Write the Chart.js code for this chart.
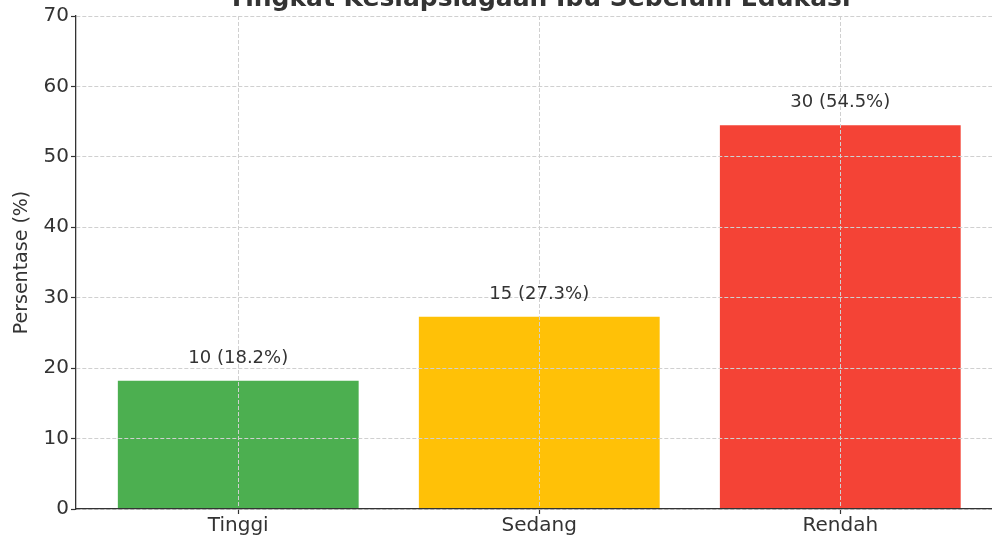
<!DOCTYPE html>
<html>
<head>
<meta charset="utf-8">
<script src="https://cdn.jsdelivr.net/npm/chart.js@4.4.1/dist/chart.umd.min.js"></script>
<style>
html,body{margin:0;padding:0;background:#ffffff;overflow:hidden;}
#wrap{width:992px;height:535px;position:relative;}
</style>
</head>
<body>
<div id="wrap"><canvas id="c" width="992" height="535"></canvas></div>
<script>
const categories = ['Tinggi', 'Sedang', 'Rendah'];
const counts = [10, 15, 30];
const percentages = [18.2, 27.3, 54.5];
const barColors = ['#4caf50', '#ffc107', '#f44336'];
const yTickValues = [0, 10, 20, 30, 40, 50, 60, 70];
const titleText = 'Tingkat Kesiapsiagaan Ibu Sebelum Edukasi';
const yAxisTitle = 'Persentase (%)';

const FONT = "'DejaVu Sans', sans-serif";
const TEXT = '#333333';

const overlayPlugin = {
  id: 'overlay',
  afterDraw(chart) {
    const ctx = chart.ctx;
    const xs = chart.scales.x, ys = chart.scales.y;
    ctx.save();
    ctx.font = '18px ' + FONT;
    ctx.fillStyle = TEXT;
    ctx.textAlign = 'center';
    ctx.textBaseline = 'alphabetic';
    categories.forEach((c, i) => {
      const x = xs.getPixelForValue(i);
      const y = ys.getPixelForValue(percentages[i]) - 18;
      ctx.fillText(counts[i] + ' (' + percentages[i].toFixed(1) + '%)', x, y);
    });
    ctx.font = 'bold 25px ' + FONT;
    ctx.fillText(titleText, xs.getPixelForValue(1), 6);
    ctx.restore();
  }
};

new Chart(document.getElementById('c'), {
  type: 'bar',
  data: {
    datasets: [{
      data: categories.map((c, i) => ({ x: i, y: percentages[i] })),
      backgroundColor: barColors,
      borderWidth: 0,
      barPercentage: 0.8,
      categoryPercentage: 1.0
    }]
  },
  options: {
    responsive: false,
    animation: false,
    devicePixelRatio: 1,
    layout: { padding: { top: 16, left: 0, right: 0, bottom: 0 } },
    plugins: { legend: { display: false }, title: { display: false }, tooltip: { enabled: false } },
    scales: {
      x: {
        type: 'linear',
        offset: false,
        min: -0.539,
        max: 2.504,
        afterBuildTicks: (s) => { s.ticks = categories.map((c, i) => ({ value: i })); },
        afterFit: (s) => { s.height = 26; },
        ticks: {
          autoSkip: false,
          maxRotation: 0,
          padding: 0,
          color: TEXT,
          font: { family: FONT, size: 20 },
          callback: (v) => categories[v]
        },
        grid: {
          offset: false,
          color: '#d0d0d0',
          lineWidth: 1,
          z: 1,
          drawTicks: true,
          tickLength: 5,
          tickColor: '#333333',
          tickWidth: 1.2
        },
        border: { display: true, color: '#333333', width: 1.3, dash: [4, 2], z: 2 }
      },
      y: {
        min: 0,
        max: 70,
        afterBuildTicks: (s) => { s.ticks = yTickValues.map(v => ({ value: v })); },
        afterFit: (s) => { s.width = 76; },
        ticks: {
          padding: 2,
          color: TEXT,
          font: { family: FONT, size: 20 }
        },
        title: {
          display: true,
          text: yAxisTitle,
          color: TEXT,
          font: { family: FONT, size: 19 },
          padding: { top: 11, bottom: 0 }
        },
        grid: {
          color: '#d0d0d0',
          lineWidth: 1,
          z: 1,
          drawTicks: true,
          tickLength: 5,
          tickColor: '#333333',
          tickWidth: 1.2
        },
        border: { display: true, color: '#333333', width: 1.3, dash: [4, 2], z: 2 }
      }
    }
  },
  plugins: [overlayPlugin]
});
</script>
</body>
</html>
